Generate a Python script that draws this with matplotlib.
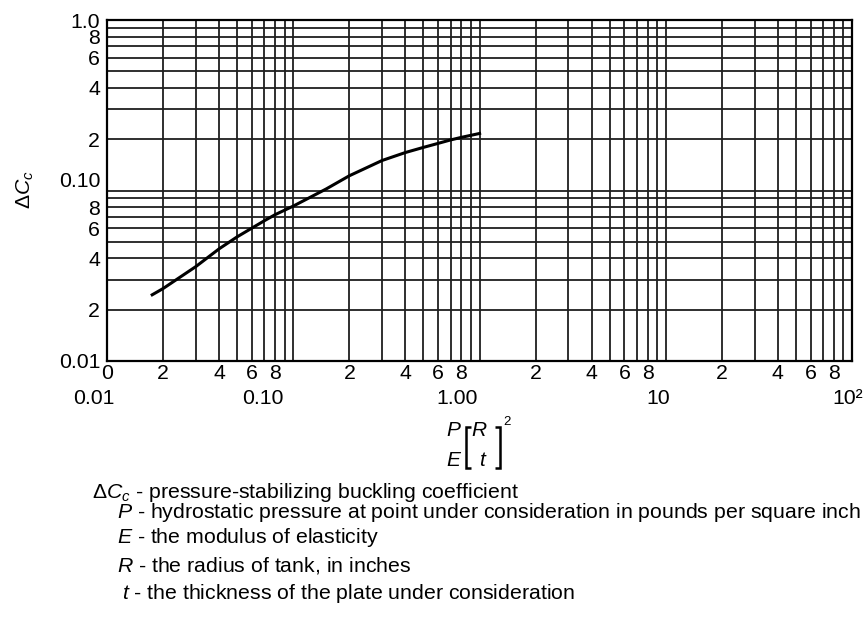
import matplotlib
matplotlib.use('Agg')
import matplotlib.pyplot as plt
import matplotlib.transforms as mtransforms
from matplotlib.lines import Line2D
from matplotlib.ticker import NullLocator

plt.rcParams['font.family'] = ['Liberation Sans', 'DejaVu Sans']
plt.rcParams['mathtext.fontset'] = 'custom'
plt.rcParams['mathtext.rm'] = 'Liberation Sans'
plt.rcParams['mathtext.it'] = 'Liberation Sans:italic'

# ---- data ----
param = [0.0172, 0.02, 0.03, 0.04, 0.05, 0.06, 0.07, 0.08, 0.10, 0.15,
         0.20, 0.30, 0.40, 0.50, 0.60, 0.70, 0.80, 1.02]
coef = [0.0242, 0.0266, 0.0358, 0.0455, 0.0535, 0.0602, 0.0665, 0.0722, 0.0810, 0.102,
        0.122, 0.150, 0.167, 0.179, 0.189, 0.198, 0.205, 0.217]

x_decades = [0.01, 0.1, 1.0, 10.0]
y_decades = [0.01, 0.1]
multipliers = [1, 2, 3, 4, 5, 6, 7, 8, 9]
labelled_mult = [2, 4, 6, 8]
x_decade_labels = ['0.01', '0.10', '1.00', '10', '10²']
y_first_label = '0.01'
y_mid_label = '0.10'
y_top_label = '1.0'

legend_lines = [
    r'$\Delta C_c$ - pressure-stabilizing buckling coefficient',
    r'$P$ - hydrostatic pressure at point under consideration in pounds per square inch',
    r'$E$ - the modulus of elasticity',
    r'$R$ - the radius of tank, in inches',
    r'$t$ - the thickness of the plate under consideration',
]

W, H = 865, 636
FS = 15.3

fig = plt.figure(figsize=(W / 100, H / 100), dpi=100)
ax = fig.add_axes([107 / W, 1 - 361 / H, 745 / W, 341 / H])
ax.set_xscale('log')
ax.set_yscale('log')
ax.set_xlim(0.01, 100)
ax.set_ylim(0.01, 1.0)

ax.plot(param, coef, color='black', lw=2.2, solid_capstyle='butt',
        solid_joinstyle='round', zorder=5)

# x ticks / grid
xt, xl = [], []
for d in x_decades:
    for m in multipliers:
        xt.append(m * d)
        if d == x_decades[0] and m == 1:
            xl.append('0')
        elif m in labelled_mult:
            xl.append(str(m))
        else:
            xl.append('')
xt.append(100.0)
xl.append('')
ax.set_xticks(xt)
ax.set_xticklabels(xl)
ax.xaxis.set_minor_locator(NullLocator())

yt, yl = [], []
for d in y_decades:
    for m in multipliers:
        yt.append(m * d)
        if m == 1:
            yl.append(y_first_label if d == y_decades[0] else '')
        elif m in labelled_mult:
            yl.append(str(m))
        else:
            yl.append('')
yt.append(1.0)
yl.append(y_top_label)
ax.set_yticks(yt)
ax.set_yticklabels(yl)
ax.yaxis.set_minor_locator(NullLocator())

ax.tick_params(axis='both', length=0, labelsize=FS, colors='black')
ax.tick_params(axis='x', pad=2.5)
ax.tick_params(axis='y', pad=5)
ax.grid(True, which='major', color='#1f1f1f', lw=1.3)
for s in ax.spines.values():
    s.set_linewidth(1.6)
    s.set_color('black')

# offset "0.10" label on y axis
tr = mtransforms.offset_copy(ax.get_yaxis_transform(), fig=fig, x=-7, y=9, units='dots')
ax.text(0, y_decades[1], y_mid_label, transform=tr, ha='right', va='center', fontsize=FS)

# decade labels row
blend = mtransforms.blended_transform_factory(fig.transFigure, ax.transAxes)
dec_centers = [94, 263, 457, 658, 848]
for cx, lab in zip(dec_centers, x_decade_labels):
    ax.text(cx / W, -0.082, lab, transform=blend, ha='center', va='top', fontsize=FS)

# y label
fig.text(25 / W, 1 - 190 / H, r'$\Delta C_c$', rotation=90, ha='center', va='center', fontsize=FS)


def ft(x, y, s, **kw):
    fig.text(x / W, 1 - y / H, s, **kw)


def fl(xs, ys, lw=1.8):
    fig.add_artist(Line2D([x / W for x in xs], [1 - y / H for y in ys],
                          transform=fig.transFigure, color='black', lw=lw,
                          solid_joinstyle='miter', solid_capstyle='butt'))


# x label composed: P/E [R/t]^2
ft(453, 430, 'P', style='italic', ha='center', va='center', fontsize=15)
ft(453, 460, 'E', style='italic', ha='center', va='center', fontsize=15)
fl([471, 465.5, 465.5, 471], [427, 427, 468, 468])
ft(479, 431, 'R', style='italic', ha='center', va='center', fontsize=15)
ft(482, 460, 't', style='italic', ha='center', va='center', fontsize=15)
fl([495, 500.5, 500.5, 495], [427, 427, 468, 468])
ft(507, 422, '2', ha='center', va='center', fontsize=9.5)

# legend text
starts = [92, 117, 117, 117, 122]
baselines = [498, 518, 543, 571, 599]
for x0, yb, s in zip(starts, baselines, legend_lines):
    ft(x0, yb, s, ha='left', va='baseline', fontsize=FS)

fig.savefig('out.png', dpi=100)
